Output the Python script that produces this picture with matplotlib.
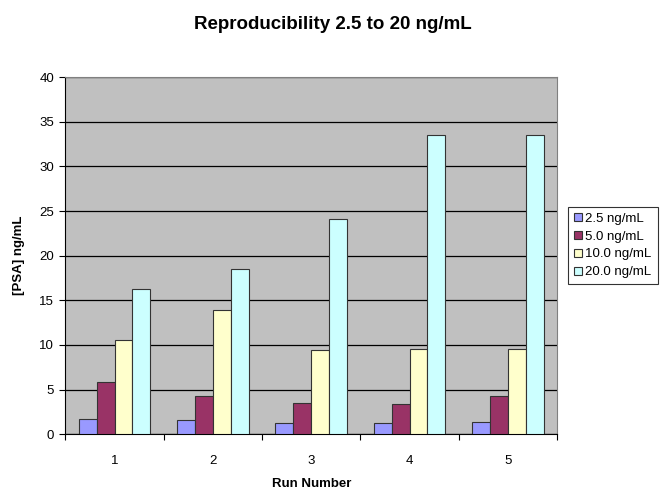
import matplotlib.pyplot as plt
import numpy as np

plt.rcParams['font.family'] = ['Liberation Sans', 'DejaVu Sans']

runs = ['1', '2', '3', '4', '5']
labels = ['2.5 ng/mL', '5.0 ng/mL', '10.0 ng/mL', '20.0 ng/mL']
conc_2_5 = [1.7, 1.6, 1.2, 1.2, 1.35]
conc_5_0 = [5.8, 4.3, 3.5, 3.4, 4.3]
conc_10 = [10.6, 13.9, 9.45, 9.6, 9.6]
conc_20 = [16.3, 18.5, 24.1, 33.5, 33.5]
colors = ['#9999FF', '#993366', '#FFFFCC', '#CCFFFF']

fig = plt.figure(figsize=(6.7, 4.92), dpi=100)
ax = fig.add_axes([0.0975, 0.1175, 0.734, 0.7255])
ax.set_facecolor('#C0C0C0')

x = np.arange(1, len(runs) + 1)
w = 1 / 5.5
series = [conc_2_5, conc_5_0, conc_10, conc_20]
for i, vals in enumerate(series):
    ax.bar(x + (i - 1.5) * w, vals, width=w, color=colors[i],
           edgecolor='#333333', linewidth=0.8, label=labels[i], zorder=3)

ax.set_ylim(0, 40)
ax.set_xlim(0.5, 5.5)
ax.set_yticks(np.arange(0, 45, 5))
ax.yaxis.grid(True, color='black', linewidth=0.9, zorder=1)
ax.set_axisbelow(True)

# category labels at centres, tick marks at the boundaries
ax.set_xticks(x)
ax.set_xticklabels(runs)
ax.set_xticks(np.arange(0.5, 6, 1), minor=True)
ax.tick_params(axis='x', which='major', length=0, pad=15, labelsize=9.5)
ax.tick_params(axis='x', which='minor', length=4, width=0.8, direction='out')
ax.tick_params(axis='y', length=4, width=0.8, direction='out', labelsize=9.5, pad=4)

for side in ['top', 'right']:
    ax.spines[side].set_color('#808080')
    ax.spines[side].set_linewidth(0.8)
for side in ['left', 'bottom']:
    ax.spines[side].set_color('black')
    ax.spines[side].set_linewidth(0.8)

ax.set_xlabel('Run Number', fontsize=9.5, fontweight='bold', labelpad=8)
ax.set_ylabel('[PSA] ng/mL', fontsize=9.5, fontweight='bold', labelpad=10)
fig.suptitle('Reproducibility 2.5 to 20 ng/mL', x=0.497, y=0.968,
             fontsize=13.5, fontweight='bold')

leg = fig.legend(loc='upper left', bbox_to_anchor=(0.848, 0.58),
                 fontsize=9.5, frameon=True, fancybox=False,
                 handlelength=0.6, handleheight=0.6, handletextpad=0.25,
                 labelspacing=0.45, borderpad=0.45, borderaxespad=0)
leg.get_frame().set_edgecolor('black')
leg.get_frame().set_linewidth(0.8)

fig.savefig('out.png', dpi=100)
